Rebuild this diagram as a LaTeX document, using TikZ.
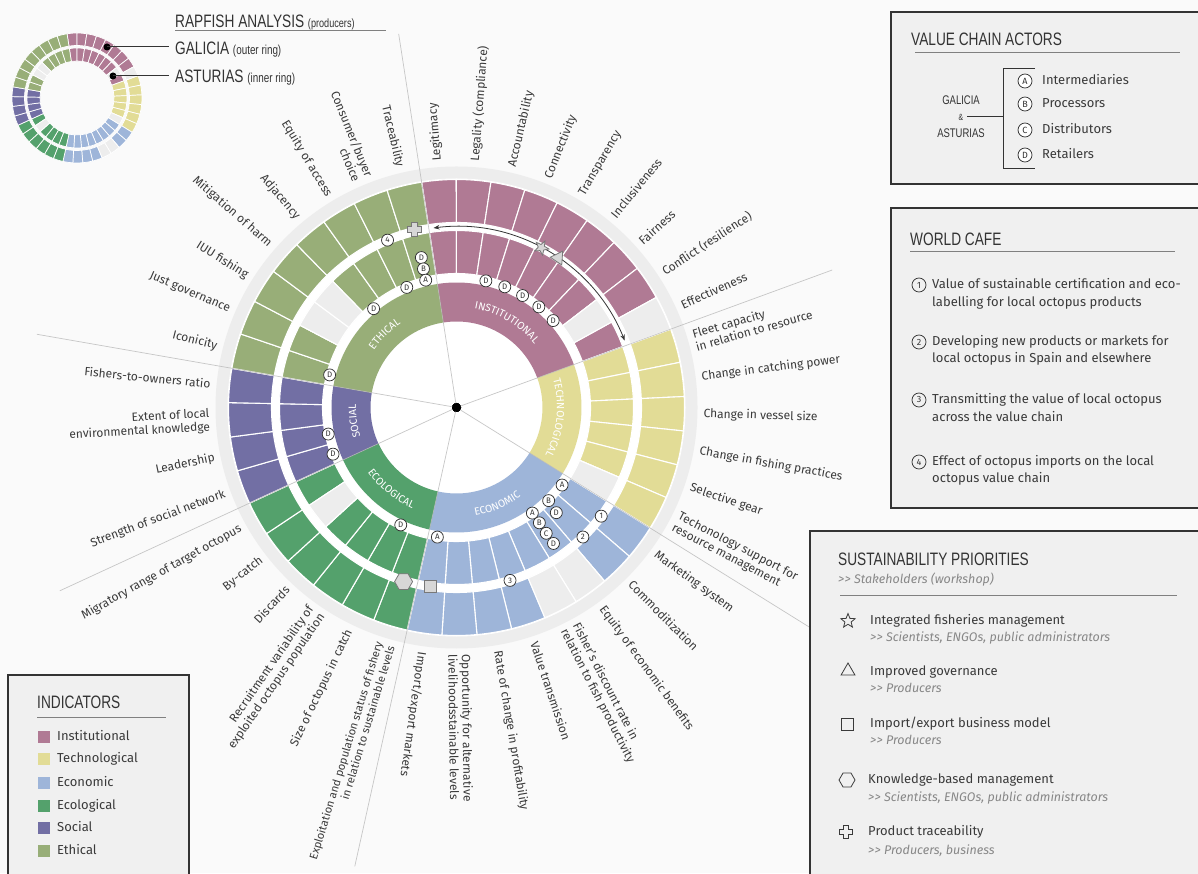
\documentclass[tikz,border=0pt]{standalone}
\usepackage{fontspec}
\setmainfont{Fira Sans}
\newfontfamily\condfont[FakeStretch=0.76]{Liberation Sans}
\usetikzlibrary{arrows.meta,shapes.geometric,decorations.text}
\definecolor{cinst}{RGB}{176,122,148}
\definecolor{ctech}{RGB}{226,220,150}
\definecolor{cecon}{RGB}{158,181,217}
\definecolor{cecol}{RGB}{84,161,108}
\definecolor{csoc}{RGB}{114,111,164}
\definecolor{ceth}{RGB}{152,174,120}
\definecolor{cempty}{RGB}{237,237,237}
\definecolor{chalo}{RGB}{237,237,237}
\definecolor{bgc}{RGB}{250,250,250}
\definecolor{boxc}{RGB}{240,240,240}
\definecolor{dark}{RGB}{51,51,51}
\definecolor{txtc}{RGB}{58,58,58}
\definecolor{subc}{RGB}{135,135,135}
\definecolor{spokec}{RGB}{185,185,185}
\definecolor{prioc}{RGB}{120,120,120}
\definecolor{priof}{RGB}{215,215,215}
\tikzset{
 lbl/.style={font=\fontsize{12}{13.5}\selectfont, text=txtc, inner sep=0pt},
 spoke/.style={draw=spokec, line width=0.7pt},
 mk/.style={circle, draw=dark, fill=white, line width=0.75pt, inner sep=0pt, minimum size=12pt, font=\fontsize{8}{8}\selectfont, text=dark},
 prio/.style={draw=prioc, fill=priof, line width=0.8pt, inner sep=0pt},
 prioleg/.style={draw=txtc, fill=none, line width=0.8pt, inner sep=0pt},
 boxsty/.style={fill=boxc, draw=dark, line width=1.8pt},
 boxtitle/.style={font=\condfont\fontsize{18}{20}\selectfont, text=dark, anchor=base west, inner sep=0pt},
 linetxt/.style={font=\fontsize{13}{15}\selectfont, text=txtc, anchor=west, inner sep=0pt, text height=9.2pt, text depth=2.7pt},
 subtxt/.style={font=\itshape\fontsize{12.5}{14}\selectfont, text=subc, anchor=west, inner sep=0pt, text height=9pt, text depth=2.7pt},
 hrule/.style={draw=gray, line width=1pt},
 legsq/.style={rectangle, minimum size=12pt, inner sep=0pt},
 linec/.style={draw=dark, line width=1pt},
 legmk/.style={mk, minimum size=14pt, font=\fontsize{9}{9}\selectfont},
}
\newcommand\sector[5]{\path[#1] (#2:#4pt) arc[start angle=#2,end angle=#3,radius=#4pt] -- (#3:#5pt) arc[start angle=#3,end angle=#2,radius=#5pt] -- cycle;}
\newcommand\wheelrings[5]{%
 \foreach \sa/\ea/\nc/\cc in {98.8/20.1/9/cinst,20.1/-31.9/6/ctech,-31.9/-102.5/8/cecon,-102.5/-155.2/6/cecol,-155.2/-189.9/4/csoc,-189.9/-261.2/8/ceth}{%
  \pgfmathtruncatemacro\nn{\nc-1}%
  \foreach \jj in {0,...,\nn}{%
   \pgfmathsetmacro\aA{\sa+(\ea-\sa)*\jj/\nc}%
   \pgfmathsetmacro\aB{\sa+(\ea-\sa)*(\jj+1)/\nc}%
   \sector{fill=\cc,draw=white,line width=#5}{\aA}{\aB}{#1}{#2}%
   \sector{fill=\cc,draw=white,line width=#5}{\aA}{\aB}{#3}{#4}%
  }}%
 \foreach \sa/\ea/\nc/\jj/\rg in {98.8/20.1/9/8/2,98.8/20.1/9/7/1,20.1/-31.9/6/5/1,-31.9/-102.5/8/2/2,-31.9/-102.5/8/3/2,-102.5/-155.2/6/4/1,-189.9/-261.2/8/2/1,-189.9/-261.2/8/3/1}{%
   \pgfmathsetmacro\aA{\sa+(\ea-\sa)*\jj/\nc}%
   \pgfmathsetmacro\aB{\sa+(\ea-\sa)*(\jj+1)/\nc}%
   \ifnum\rg=1 \sector{fill=cempty,draw=white,line width=#5}{\aA}{\aB}{#1}{#2}\else\sector{fill=cempty,draw=white,line width=#5}{\aA}{\aB}{#3}{#4}\fi
 }}
\newcommand\rightlbl[3]{\node[lbl,anchor=west,rotate=#2,align=left] (#1) at (#2:247pt) {#3};}
\newcommand\leftlbl[3]{\node[lbl,anchor=east,rotate=#2+180,align=right] (#1) at (#2:247pt) {#3};}
\newcommand\catf{\fontsize{10.5}{11}\selectfont\color{white}}
\newcommand\gtgt{>\kern0.3pt>}
\newcommand\plusshape[3]{\coordinate (#1) at (#2); \path[#3] (#1) ++(-2.6,6.8) -- ++(5.2,0) -- ++(0,-4.2) -- ++(4.2,0) -- ++(0,-5.2) -- ++(-4.2,0) -- ++(0,-4.2) -- ++(-5.2,0) -- ++(0,4.2) -- ++(-4.2,0) -- ++(0,5.2) -- ++(4.2,0) -- cycle;}
\begin{document}
\begin{tikzpicture}[x=1pt,y=1pt]
\useasboundingbox (0,0) rectangle (1198,873);
\fill[bgc] (0,0) rectangle (1198,873);

% ================= main wheel =================
\begin{scope}[shift={(456.5,465.5)}]
 \fill[chalo] (0,0) circle[radius=241pt];
 \fill[white] (0,0) circle[radius=229pt];
 \wheelrings{134}{177}{185}{228}{1.1pt}
 \foreach \sa/\ea/\cc in {98.8/20.1/cinst,20.1/-31.9/ctech,-31.9/-102.5/cecon,-102.5/-155.2/cecol,-155.2/-189.9/csoc,-189.9/-261.2/ceth}
   \sector{fill=\cc}{\sa}{\ea}{86}{125}
 \node[circle,fill=black,minimum size=9pt,inner sep=0pt] (ctr) at (0,0) {};
 \foreach \a/\r [count=\i] in {98.8/378,20.1/400,-31.9/415,-102.5/470,-155.2/437,-189.9/426}
   \draw[spoke,opacity=0.8] (ctr.center) -- (\a:\r pt) coordinate (sp\i);
 \node[circle,fill=black,minimum size=9pt,inner sep=0pt] at (ctr) {};

 % category labels
 \path[decorate,decoration={text along path,text align=center,text={|\catf|INSTITUTIONAL}}] (98.8:100.5pt) arc[start angle=98.8,end angle=20.1,radius=100.5pt];
 \path[decorate,decoration={text along path,text align=center,text={|\catf|TECHNOLOGICAL}}] (20.1:100.5pt) arc[start angle=20.1,end angle=-31.9,radius=100.5pt];
 \path[decorate,decoration={text along path,text align=center,text={|\catf|ECONOMIC}}] (-102.5:110pt) arc[start angle=-102.5,end angle=-31.9,radius=110pt];
 \path[decorate,decoration={text along path,text align=center,text={|\catf|ECOLOGICAL}}] (-155.2:110pt) arc[start angle=-155.2,end angle=-102.5,radius=110pt];
 \path[decorate,decoration={text along path,text align=center,text={|\catf|SOCIAL}}] (-155.2:100.5pt) arc[start angle=-155.2,end angle=-189.9,radius=100.5pt];
 \path[decorate,decoration={text along path,text align=center,text={|\catf|ETHICAL}}] (-189.9:100.5pt) arc[start angle=-189.9,end angle=-261.2,radius=100.5pt];

 % arrow on outer gap
 \coordinate (arrS) at (97.3:181pt);
 \draw[dark,line width=0.8pt,{Stealth[length=6pt,width=4.5pt]}-{Stealth[length=6pt,width=4.5pt]}] (arrS) arc[start angle=97.3,end angle=21.7,radius=181pt] coordinate (arrE);

 % actor markers
 \node[mk] (i1) at (76.94:130pt) {D};
 \node[mk] (i2) at (68.19:130pt) {D};
 \node[mk] (i3) at (59.45:130pt) {D};
 \node[mk] (i4) at (50.71:130pt) {D};
 \node[mk] (i5) at (41.96:130pt) {D};
 \node[mk] (t3) at (103.2:154pt) {D};
 \node[mk] (t2) at (103.4:142.5pt) {B};
 \node[mk] (t1) at (103.6:131pt) {A};
 \node[mk] (e1) at (112.5:130pt) {D};
 \node[mk] (e2) at (130:129pt) {D};
 \node[mk] (e3) at (165.6:131pt) {D};
 \node[mk] (s1) at (-168.3:131pt) {D};
 \node[mk] (s2) at (-159.3:132pt) {D};
 \node[mk] (g1) at (-115.4:130pt) {D};
 \node[mk] (g2) at (-98.4:131pt) {A};
 \node[mk] (c1) at (-36.3:131pt) {A};
 \node[mk] (c3) at (-46.5:145pt) {D};
 \node[mk] (c2) at (-45.3:131pt) {B};
 \node[mk] (c7) at (-54.5:167pt) {D};
 \node[mk] (c6) at (-54.5:154.5pt) {C};
 \node[mk] (c5) at (-54.3:142pt) {B};
 \node[mk] (c4) at (-54.3:130pt) {A};
 \node[mk] (n1) at (-36.9:181pt) {1};
 \node[mk] (n2) at (-45.7:181pt) {2};
 \node[mk] (n3) at (-72.8:181pt) {3};
 \node[mk] (n4) at (112.4:181pt) {4};

 % priorities on wheel
 \node[prio,star,star points=5,star point ratio=2.3,minimum size=15pt,rotate=-28] (pstar) at (62:181pt) {};
 \node[prio,regular polygon,regular polygon sides=3,minimum size=16pt,rotate=-34] (ptri) at (55.8:181pt) {};
 \node[prio,rectangle,minimum size=12.5pt] (psq) at (-98.3:181pt) {};
 \node[prio,regular polygon,regular polygon sides=6,minimum size=18pt] (phex) at (-106.9:182pt) {};
 \plusshape{pcross}{103.3:183pt}{prio}

 % indicator labels
 \rightlbl{L0}{94.43}{Legitimacy}
 \rightlbl{L1}{85.68}{Legality (compliance)}
 \rightlbl{L2}{76.94}{Accountability}
 \rightlbl{L3}{68.19}{Connectivity}
 \rightlbl{L4}{59.45}{Transparency}
 \rightlbl{L5}{50.71}{Inclusiveness}
 \rightlbl{L6}{41.96}{Fairness}
 \rightlbl{L7}{33.22}{Conflict (resilience)}
 \rightlbl{L8}{24.47}{Effectiveness}
 \rightlbl{L9}{15.77}{Fleet capacity\\in relation to resource}
 \rightlbl{L10}{7.10}{Change in catching power}
 \rightlbl{L11}{-1.57}{Change in vessel size}
 \rightlbl{L12}{-10.23}{Change in fishing practices}
 \rightlbl{L13}{-18.90}{Selective gear}
 \rightlbl{L14}{-27.57}{Techonology support for\\resource management}
 \rightlbl{L15}{-36.31}{Marketing system}
 \rightlbl{L16}{-45.14}{Commoditization}
 \rightlbl{L17}{-53.96}{Equity of economic benefits}
 \rightlbl{L18}{-62.79}{Fisher’s discount rate in\\relation to fish productivity}
 \rightlbl{L19}{-71.61}{Value transmission}
 \rightlbl{L20}{-80.44}{Rate of change in profitability}
 \rightlbl{L21}{-89.26}{Opportunity for alternative\\livelihoodsstainable levels}
 \rightlbl{L22}{-98.09}{Import/export markets}
 \node[lbl,anchor=east,rotate=73.11,align=right,font=\fontsize{11.2}{12.8}\selectfont] (L23) at (-106.89:247pt) {Exploitation and population status of fishery\\in relation to sustainable levels};
 \leftlbl{L24}{-115.68}{Size of octopus in catch}
 \leftlbl{L25}{-124.46}{Recruitment variability of\\exploited octopus population}
 \leftlbl{L26}{-133.24}{Discards}
 \leftlbl{L27}{-142.03}{By-catch}
 \leftlbl{L28}{-150.81}{Migratory range of target octopus}
 \leftlbl{L29}{-159.54}{Strength of social network}
 \leftlbl{L30}{-168.21}{Leadership}
 \leftlbl{L31}{-176.89}{Extent of local\\environmental knowledge}
 \leftlbl{L32}{-185.56}{Fishers-to-owners ratio}
 \leftlbl{L33}{-194.36}{Iconicity}
 \leftlbl{L34}{-203.27}{Just governance}
 \leftlbl{L35}{-212.18}{IUU fishing}
 \leftlbl{L36}{-221.09}{Mitigation of harm}
 \leftlbl{L37}{-230.01}{Adjacency}
 \leftlbl{L38}{-238.92}{Equity of access}
 \leftlbl{L39}{-247.83}{Consumer/buyer\\choice}
 \leftlbl{L40}{-256.74}{Traceability}
\end{scope}

% ================= mini wheel & title =================
\begin{scope}[shift={(77,775)}]
 \wheelrings{37}{50}{52.5}{65}{0.7pt}
\end{scope}
\node[boxtitle] (rap) at (175,845.5) {RAPFISH ANALYSIS {\fontsize{12}{12}\selectfont(producers)}};
\draw[hrule] (175,842) -- (386,842);
\node[boxtitle] (gal) at (175,818.5) {GALICIA {\fontsize{13}{13}\selectfont(outer ring)}};
\node[boxtitle] (ast) at (175,790.5) {ASTURIAS {\fontsize{13}{13}\selectfont(inner ring)}};
\node[circle,fill=black,minimum size=7pt,inner sep=0pt] (gdot) at (107,826) {};
\node[circle,fill=black,minimum size=7pt,inner sep=0pt] (adot) at (113,797) {};
\draw[linec] (gdot.center) -- ([xshift=-6pt]gdot.center -| gal.west);
\draw[linec] (adot.center) -- ([xshift=-6pt]adot.center -| ast.west);

% ================= value chain actors =================
\draw[boxsty] (891,861) rectangle (1210,689);
\node[boxtitle] (vtitle) at (911,827) {VALUE CHAIN ACTORS};
\draw[hrule] (915,820) -- (1180,820);
\node[font=\condfont\fontsize{12.5}{13}\selectfont,text=dark,inner sep=0pt] (vg) at (961,773) {GALICIA};
\node[font=\condfont\fontsize{9}{10}\selectfont,text=dark,inner sep=0pt] (vamp) at (961,756) {\&};
\node[font=\condfont\fontsize{12.5}{13}\selectfont,text=dark,inner sep=0pt] (va) at (961,740) {ASTURIAS};
\coordinate (br1) at (1035,804);
\coordinate (br2) at (1035,704);
\draw[linec] (vamp.east) ++(4,0) coordinate (vl) -- (vl -| 1003,0);
\draw[linec] (br1) -- (br1 -| 1003,0) -- (br2 -| 1003,0) -- (br2);
\node[legmk] (vA) at (1025,792) {A};
\node[legmk] (vB) at (1025,769) {B};
\node[legmk] (vC) at (1025,743) {C};
\node[legmk] (vD) at (1025,718) {D};
\node[linetxt] (vtA) at (1042,792) {Intermediaries};
\node[linetxt] (vtB) at (1042,769) {Processors};
\node[linetxt] (vtC) at (1042,743) {Distributors};
\node[linetxt] (vtD) at (1042,718) {Retailers};

% ================= world cafe =================
\draw[boxsty] (891,665) rectangle (1210,365);
\node[boxtitle] (wtitle) at (910,627) {WORLD CAFE};
\draw[hrule] (910,621) -- (1175,621);
\node[legmk,fill=none] (w1) at (919,588) {1};
\node[legmk,fill=none] (w2) at (919,531) {2};
\node[legmk,fill=none] (w3) at (919,473) {3};
\node[legmk,fill=none] (w4) at (919,411) {4};
\node[linetxt] (w1a) at (932,588) {Value of sustainable certification and eco-};
\node[linetxt] (w1b) at (932,570) {labelling for local octopus products};
\node[linetxt] (w2a) at (932,531) {Developing new products or markets for};
\node[linetxt] (w2b) at (932,514) {local octopus in Spain and elsewhere};
\node[linetxt] (w3a) at (932,473) {Transmitting the value of local octopus};
\node[linetxt] (w3b) at (932,455) {across the value chain};
\node[linetxt] (w4a) at (932,411) {Effect of octopus imports on the local};
\node[linetxt] (w4b) at (932,394) {octopus value chain};

% ================= sustainability priorities =================
\draw[boxsty] (810,342) rectangle (1210,-10);
\node[boxtitle] (stitle) at (838,307) {SUSTAINABILITY PRIORITIES};
\node[subtxt] (ssub) at (838,293) {\gtgt{} Stakeholders (workshop)};
\draw[hrule] (840,278) -- (1177,278);
\node[prioleg,star,star points=5,star point ratio=2.3,minimum size=15pt] (lstar) at (848,252) {};
\node[linetxt] (st1) at (870,252) {Integrated fisheries management};
\node[subtxt] (ss1) at (870,235) {\gtgt{} Scientists, ENGOs, public administrators};
\node[prioleg,regular polygon,regular polygon sides=3,minimum size=16pt] (ltri) at (848,202) {};
\node[linetxt] (st2) at (870,201) {Improved governance};
\node[subtxt] (ss2) at (870,184) {\gtgt{} Producers};
\node[prioleg,rectangle,minimum size=12pt] (lsq) at (847,149) {};
\node[linetxt] (st3) at (870,149) {Import/export business model};
\node[subtxt] (ss3) at (870,132) {\gtgt{} Producers};
\node[prioleg,regular polygon,regular polygon sides=6,minimum size=16pt] (lhex) at (847,93) {};
\node[linetxt] (st4) at (868,93) {Knowledge-based management};
\node[subtxt] (ss4) at (868,75) {\gtgt{} Scientists, ENGOs, public administrators};
\plusshape{lcross}{846,41}{prioleg}
\node[linetxt] (st5) at (868,41) {Product traceability};
\node[subtxt] (ss5) at (868,22) {\gtgt{} Producers, business};

% ================= indicators legend =================
\draw[boxsty] (8,198) rectangle (189,-10);
\node[boxtitle] (ititle) at (37,165) {INDICATORS};
\draw[hrule] (37,156) -- (166,156);
\foreach \yy/\cc/\tt [count=\i] in {136/cinst/Institutional,114/ctech/Technological,90/cecon/Economic,67/cecol/Ecological,45/csoc/Social,22/ceth/Ethical}{
  \node[legsq,fill=\cc] (isq\i) at (44,\yy) {};
  \node[linetxt] (itx\i) at (57,\yy) {\tt};
}
\end{tikzpicture}
\end{document}
